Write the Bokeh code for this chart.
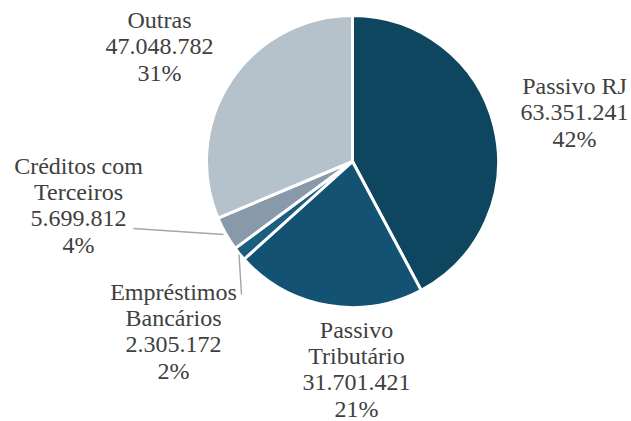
import math
from bokeh.plotting import figure
from bokeh.models import Range1d, ColumnDataSource, LabelSet
from bokeh.core.properties import value
from bokeh.embed import file_html
from bokeh.resources import INLINE

# ---- data ----
categories = ["Passivo RJ", "Passivo Tributário", "Empréstimos Bancários", "Créditos com Terceiros", "Outras"]
values = [63351241, 31701421, 2305172, 5699812, 47048782]
colors = ["#0e4660", "#135272", "#1a5e80", "#8899aa", "#b5c1cb"]
# label text lines (category name split over lines as in the chart)
label_names = [["Passivo RJ"], ["Passivo", "Tributário"], ["Empréstimos", "Bancários"], ["Créditos com", "Terceiros"], ["Outras"]]

W, H = 631, 421
def Y(y_img):
    return H - y_img

p = figure(width=W, height=H, output_backend="svg", toolbar_location=None,
           x_range=Range1d(0, W), y_range=Range1d(0, H),
           min_border=0, outline_line_color=None)
p.axis.visible = False
p.grid.visible = False
p.background_fill_color = "white"
p.border_fill_color = "white"

cx, cy, r = 352, Y(161), 146
total = sum(values)
starts, ends = [], []
cum = 0.0
for v in values:
    starts.append(math.pi / 2 - cum / total * 2 * math.pi)
    cum += v
    ends.append(math.pi / 2 - cum / total * 2 * math.pi)

src = ColumnDataSource(dict(start=starts, end=ends, color=colors))
p.wedge(x=cx, y=cy, radius=r, start_angle="start", end_angle="end", direction="clock",
        fill_color="color", line_color="white", line_width=3, source=src)

# leader lines
p.line([133, 223], [Y(228), Y(234)], line_color="#a6a6a6", line_width=1.5)
p.line([238.5, 241], [Y(254), Y(294)], line_color="#a6a6a6", line_width=1.5)

def fmt(v):
    return f"{v:,}".replace(",", ".")

# label anchor: center x, first line center y (image coords), line spacing
anchors = [(574, 85), (356, 329), (173, 291), (78, 165), (159, 19)]
spacing = 26.5
xs, ys, ts = [], [], []
for i, v in enumerate(values):
    lines = label_names[i] + [fmt(v), f"{round(v / total * 100)}%"]
    ax, ay = anchors[i]
    for j, t in enumerate(lines):
        xs.append(ax)
        ys.append(Y(ay + j * spacing))
        ts.append(t)

lsrc = ColumnDataSource(dict(x=xs, y=ys, text=ts))
labels = LabelSet(x="x", y="y", text="text", source=lsrc, text_align="center",
                  text_baseline="middle", text_font="Liberation Serif",
                  text_font_size="24px", text_color="#404040")
p.add_layout(labels)

open("out.html", "w").write(file_html(p, INLINE))
